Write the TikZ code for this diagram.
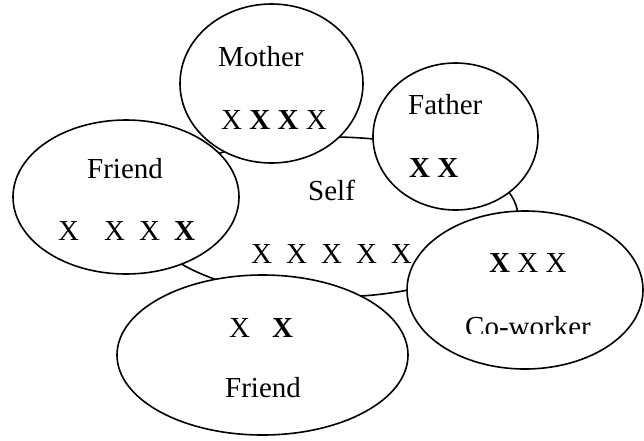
\documentclass[tikz,border=0pt]{standalone}
\usepackage{fontspec}
\setmainfont{Liberation Serif}
\usetikzlibrary{shapes.geometric}
\begin{document}
\begin{tikzpicture}[x=1pt,y=-1pt,
  bub/.style={ellipse, fill=white, inner sep=0pt, outer sep=0pt},
  outl/.style={line width=1.6pt},
  lbl/.style={inner sep=0pt, anchor=base west, font=\fontsize{29}{32}\selectfont}]
\useasboundingbox (0,0) rectangle (644,440);
% Self (background ellipse)
\node[bub, draw, line width=1.6pt, minimum width=372pt, minimum height=160pt] (self) at (332,217) {};
% white fills of the surrounding ellipses
\node[bub, minimum width=183pt, minimum height=159pt] (mother) at (271.5,83.5) {};
\node[bub, minimum width=165pt, minimum height=147pt] (father) at (455.5,136.5) {};
\node[bub, minimum width=226pt, minimum height=154pt] (friendL) at (126,197) {};
\node[bub, minimum width=291pt, minimum height=160pt] (friendB) at (262.5,355) {};
\node[bub, minimum width=236pt, minimum height=158pt] (cowork) at (525,290) {};
% outlines
\draw[outl] (mother.center) ellipse [x radius=91.5, y radius=79.5];
\draw[outl] (father.center) ellipse [x radius=82.5, y radius=73.5];
\draw[outl] (friendL.center) ellipse [x radius=113, y radius=77];
\draw[outl] (friendB.center) ellipse [x radius=145.5, y radius=80];
\draw[outl] (cowork.center) ellipse [x radius=118, y radius=79];
% texts
\node[lbl] (tmother) at (218,66) {Mother};
\node[lbl] (xmother) at (221,129) {X \textbf{X} \textbf{X} X};
\node[lbl] (tfather) at (408,114) {Father};
\node[lbl] (xfather) at (409,177) {\textbf{X} \textbf{X}};
\node[lbl] (tfriendL) at (87,178) {Friend};
\node[lbl] (xfriendL) at (58,240) {X\hspace{25pt}X\hspace{14pt}X\hspace{14pt}\textbf{X}};
\node[lbl] (tself) at (308,200) {Self};
\node[lbl] (xself) at (251,263) {X\hspace{14pt}X\hspace{14pt}X\hspace{14pt}X\hspace{14pt}X};
\node[lbl] (xcowork) at (489,272) {\textbf{X} X X};
\begin{scope}
\clip (400,300) rectangle (644,333);
\node[lbl] (tcowork) at (465,336) {Co-worker};
\end{scope}
\node[lbl] (xfriendB) at (229,337) {X\hspace{22pt}\textbf{X}};
\node[lbl] (tfriendB) at (225,397) {Friend};
\end{tikzpicture}
\end{document}
